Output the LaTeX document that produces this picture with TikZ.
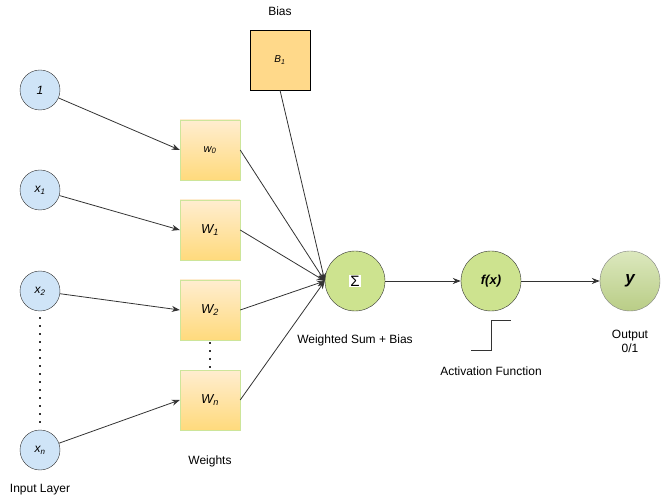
\documentclass[tikz,border=0pt]{standalone}
\usepackage{fontspec}
\setmainfont{Liberation Sans}
\usepackage{xcolor}
\usetikzlibrary{arrows.meta}
\definecolor{inblue}{HTML}{CFE4F7}
\definecolor{wtop}{HTML}{FFEDD0}
\definecolor{wbot}{HTML}{FFDA7C}
\definecolor{wedge}{HTML}{CDE59A}
\definecolor{biasfill}{HTML}{FFD98A}
\definecolor{sumgreen}{HTML}{CDE38F}
\definecolor{outtop}{HTML}{DCE8BE}
\definecolor{outbot}{HTML}{B9CD86}
\definecolor{linegray}{HTML}{333333}

\begin{document}
\begin{tikzpicture}[x=1pt, y=-1pt,
    every node/.style = {font=\fontsize{12}{14}\selectfont, align=center},
    input/.style = {shape=circle, draw=linegray, fill=inblue,
      minimum size=40pt, inner sep=0pt, font=\itshape\fontsize{12}{14}\selectfont},
    weight/.style = {shape=rectangle, draw=wedge, top color=wtop,
      bottom color=wbot, minimum size=60pt, inner sep=0pt,
      font=\itshape\fontsize{13}{15}\selectfont},
    neuron/.style = {shape=circle, draw=linegray, fill=sumgreen,
      minimum size=60pt, inner sep=0pt},
    link/.style = {draw=linegray, line width=0.8pt,
      -{Stealth[length=8pt, width=6pt]}},
    dots/.style = {draw=linegray, line width=1.4pt,
      dash pattern=on 1.4pt off 6.6pt}]
    \useasboundingbox (0,0) rectangle (661,502);
    \node[input] (in0) at (40,90)  {1};
    \node[input] (in1) at (40,190) {x\textsubscript{1}};
    \node[input] (in2) at (40,291) {x\textsubscript{2}};
    \node[input] (inn) at (40,450) {x\textsubscript{n}};
    \node[weight, font=\itshape\fontsize{11}{13}\selectfont] (w0) at (210,150) {w\textsubscript{0}};
    \node[weight] (w1) at (210,230) {W\textsubscript{1}};
    \node[weight] (w2) at (210,310) {W\textsubscript{2}};
    \node[weight] (wn) at (210,400) {W\textsubscript{n}};
    \node[shape=rectangle, draw=black, fill=biasfill, minimum size=60pt,
      font=\itshape\fontsize{10}{12}\selectfont] (bias) at (280,60) {B\textsubscript{1}};
    \node[neuron] (sum) at (355,281) {\fboxsep=1pt\colorbox{white}{\fontsize{15}{17}\selectfont Σ}};
    \node[neuron, font=\itshape\bfseries\fontsize{13}{15}\selectfont] (act) at (491,281) {f(x)};
    \node[neuron, fill=none, top color=outtop, bottom color=outbot, draw=gray,
      font=\itshape\bfseries\fontsize{17}{19}\selectfont] (out) at (630,281) {y};
    \node (biaslabel) at (280,11) {Bias};
    \node (weightslabel) at (210,461) {Weights};
    \node (inputlabel) at (40,490) {Input Layer};
    \node (sumlabel) at (355,340) {Weighted Sum + Bias};
    \node (actlabel) at (491,371) {Activation Function};
    \node (outlabel) at (630,341) {Output\\0/1};
    \draw[link] (in0) -- (w0.west);
    \draw[link] (in1) -- (w1.west);
    \draw[link] (in2) -- (w2.west);
    \draw[link] (inn) -- (wn.west);
    \draw[link] (w0.east) -- (sum.west);
    \draw[link] (w1.east) -- (sum.west);
    \draw[link] (w2.east) -- (sum.west);
    \draw[link] (wn.east) -- (sum.west);
    \draw[link] (bias.south) -- (sum.west);
    \draw[link] (sum) -- (act);
    \draw[link] (act) -- (out);
    \draw[dots] ([yshift=-6pt]in2.south) -- ([yshift=4pt]inn.north);
    \draw[dots] ([yshift=-2pt]w2.south) -- (wn.north);
    \draw[draw=linegray, line width=0.8pt] (471,350) -- (491,350) -- (491,320) -- (511,320);
\end{tikzpicture}
\end{document}
